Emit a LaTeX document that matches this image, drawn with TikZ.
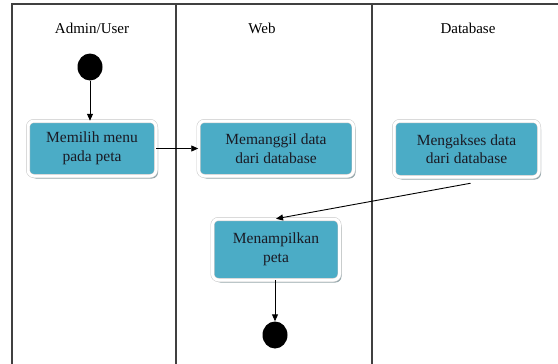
\documentclass[tikz,border=0pt]{standalone}
\usepackage{fontspec}
\setmainfont{Liberation Serif}
\usetikzlibrary{arrows.meta,shadows,shapes.geometric}
\definecolor{aqua}{HTML}{4BACC6}
\definecolor{lanegray}{HTML}{404040}
\definecolor{txt}{HTML}{1A1A24}
\tikzset{
  lane/.style={draw=lanegray,line width=1.4pt},
  act/.style={rectangle,rounded corners=6pt,fill=aqua,draw=black!22,double=white,double distance=3pt,line width=0.5pt,
    align=center,text=txt,font=\fontsize{15.5}{18.5}\selectfont,inner sep=0pt,
    drop shadow={shadow xshift=2pt,shadow yshift=-2.5pt,fill=black!45!aqua!60!gray,opacity=0.6}},
  hdr/.style={font=\fontsize{15}{18}\selectfont,text=black},
  dot/.style={ellipse,fill=black,minimum width=25pt,minimum height=27pt,inner sep=0pt},
  arr/.style={-{Triangle[length=7pt,width=6pt]},line width=0.9pt,black}
}
\begin{document}
\begin{tikzpicture}[x=1pt,y=-1pt]
\useasboundingbox (0,0) rectangle (558,364);
% swimlanes
\draw[lane] (12,364) -- (12,4) -- (558,4);
\draw[lane] (176,4) -- (176,364);
\draw[lane] (372,4) -- (372,364);
\node[hdr] (h1) at (92,28) {Admin/User};
\node[hdr] (h2) at (262,28) {Web};
\node[hdr] (h3) at (468,28) {Database};
% nodes
\node[dot] (start) at (90,67) {};
\node[act,minimum width=128pt,minimum height=55pt] (b1) at (92,148.5) {Memilih menu\\pada peta};
\node[act,minimum width=155pt,minimum height=55pt] (b2) at (276,148.5) {Memanggil data\\dari database};
\node[act,minimum width=145pt,minimum height=56pt] (b3) at (466.5,149) {Mengakses data\\dari database};
\node[act,minimum width=127pt,minimum height=61pt] (b4) at (276,249.5) {Menampilkan\\peta};
\node[dot] (end) at (275,335) {};
% connectors
\draw[arr] (start.south) -- (start.south |- b1.north);
\draw[arr] (b1.east) -- (b2.west);
\draw[arr] ([xshift=4pt,yshift=-6pt]b3.south) -- (b4.north);
\draw[arr] (b4.south -| end.north) -- (end.north);
\end{tikzpicture}
\end{document}
